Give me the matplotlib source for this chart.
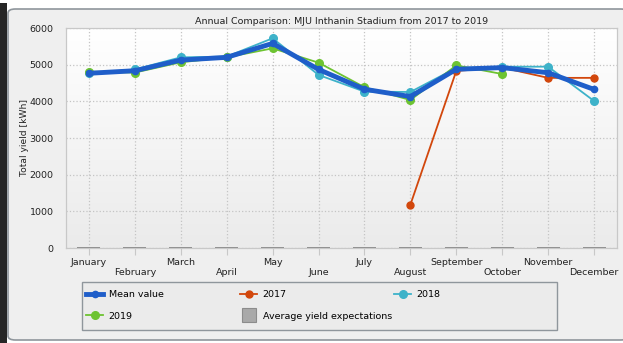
import numpy as np
import matplotlib
matplotlib.use("Agg")
import matplotlib.pyplot as plt
from matplotlib.patches import FancyBboxPatch, Rectangle
from matplotlib.lines import Line2D
from matplotlib.colors import LinearSegmentedColormap

months = ["January", "February", "March", "April", "May", "June",
          "July", "August", "September", "October", "November", "December"]

# monthly yields in kWh, None where no data
mean_value = [4765, 4835, 5125, 5200, 5580, 4870, 4330, 4130, 4875, 4920, 4780, 4325]
y2017 = [None, None, None, None, None, None, None, 1180, 4830, 4920, 4640, 4640]
y2018 = [4760, 4870, 5200, 5220, 5720, 4720, 4265, 4255, 4910, 4945, 4945, 4010]
y2019 = [4810, 4785, 5065, 5200, 5445, 5055, 4385, 4035, 4980, 4745, None, None]
avg_expect = [0] * 12

def arr(v):
    return np.array([np.nan if x is None else x for x in v], dtype=float)

W, H = 623, 343
plt.rcParams["font.family"] = "DejaVu Sans"
fig = plt.figure(figsize=(W / 100, H / 100), dpi=100)
fig.patch.set_facecolor("white")

# window panel behind the chart
panel = FancyBboxPatch((8 / W, 3 / H), 620 / W, 331 / H,
                       boxstyle="round,pad=0,rounding_size=0.012",
                       transform=fig.transFigure, facecolor="#efefef",
                       edgecolor="#8f969c", linewidth=1.2, zorder=-10)
fig.patches.append(panel)
fig.patches.append(Rectangle((0, 0), 7 / W, 340 / H, transform=fig.transFigure,
                             facecolor="#262626", edgecolor="none", zorder=-9))

ax = fig.add_axes([66 / W, 1 - 248 / H, 551 / W, 220 / H])
ax.set_facecolor("none")
x = np.arange(len(months))

# soft vertical gradient in the plot area
grad = LinearSegmentedColormap.from_list("bg", ["#ebebeb", "#ffffff"])
ax.imshow(np.linspace(0, 1, 100).reshape(-1, 1), cmap=grad, origin="lower",
          extent=[-0.5, 11.5, 0, 6000], aspect="auto", zorder=0)

ax.bar(x, avg_expect, width=0.5, color="#a9a9a9", edgecolor="#8a8a8a",
       linewidth=1.4, zorder=2)
l17, = ax.plot(x, arr(y2017), color="#d2470c", lw=1.3, marker="o", ms=5, zorder=3, label="2017")
l18, = ax.plot(x, arr(y2018), color="#3db2c9", lw=1.3, marker="o", ms=5.5, zorder=3, label="2018")
l19, = ax.plot(x, arr(y2019), color="#6dc331", lw=1.3, marker="o", ms=5.5, zorder=3, label="2019")
lmean, = ax.plot(x, mean_value, color="#1f5ec9", lw=3.5, marker="o", ms=4.5, zorder=4,
                 label="Mean value")
# square swatch for the expectation bars in the legend
avg_key = Line2D([], [], linestyle="none", marker="s", ms=9.5, color="#a9a9a9",
                 markeredgecolor="#8c8c8c", markeredgewidth=0.8,
                 label="Average yield expectations")

ax.set_xlim(-0.5, 11.5)
ax.set_ylim(0, 6000)
ax.set_yticks(range(0, 6001, 1000))
ax.set_xticks(x)
ax.set_xticklabels([m if i % 2 == 0 else "\n" + m for i, m in enumerate(months)])
ax.tick_params(axis="x", length=5, color="#c8c8c8", labelsize=6.8, pad=2,
               labelcolor="#222222")
ax.tick_params(axis="y", length=0, labelsize=6.8, pad=9, labelcolor="#222222")
ax.grid(True, linestyle=":", color="#c4c4c4", linewidth=0.9, zorder=1)
for s in ax.spines.values():
    s.set_color("#c8c8c8")
    s.set_linewidth(0.9)

ax.set_title("Annual Comparison: MJU Inthanin Stadium from 2017 to 2019",
             fontsize=6.8, color="#222222", pad=3)
ax.set_ylabel("Total yield [kWh]", fontsize=6.6, color="#222222")
ax.yaxis.set_label_coords((29 - 66) / 551, (248 - 137) / 220)

# legend: one box, three fixed-width columns
fig.patches.append(Rectangle((82 / W, 1 - 330 / H), 475 / W, 48 / H,
                             transform=fig.transFigure, facecolor="#ebebeb",
                             edgecolor="#8f969c", linewidth=1.0, zorder=-5))
columns = [(86, [lmean, l19]), (240, [l17, avg_key]), (394, [l18])]
for cx, handles in columns:
    fig.legend(handles, [hh.get_label() for hh in handles],
               loc="upper left", bbox_to_anchor=(cx / W, 1 - 290 / H),
               frameon=False, fontsize=6.8, handlelength=1.8,
               handletextpad=0.6, labelspacing=1.35, borderpad=0,
               borderaxespad=0)

fig.savefig("out.png", dpi=100)
